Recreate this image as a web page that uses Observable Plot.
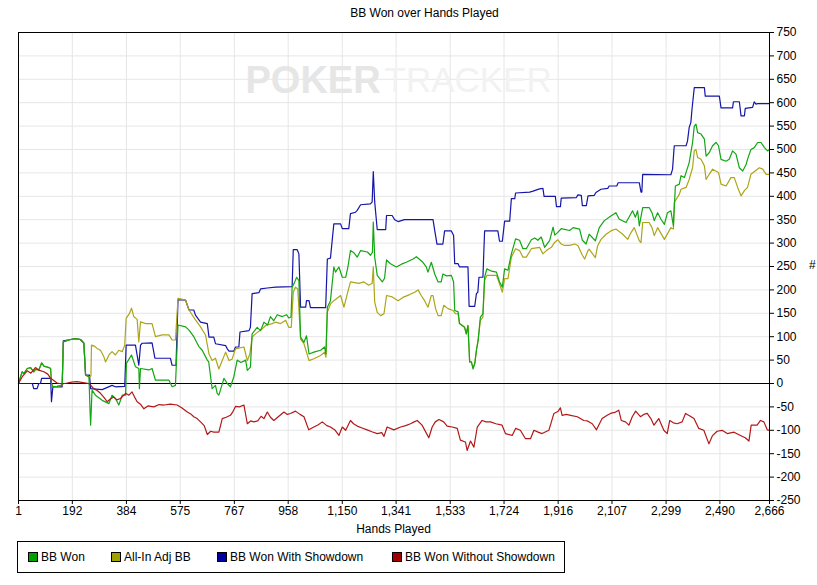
<!DOCTYPE html>
<html>
<head>
<meta charset="utf-8">
<script src="https://cdn.jsdelivr.net/npm/d3@7"></script>
<script src="https://cdn.jsdelivr.net/npm/@observablehq/plot@0.6"></script>
<style>
  body { margin: 0; background: #fff; font-family: "Liberation Sans", Arial, sans-serif; }
  #wrap { position: relative; width: 817px; height: 585px; overflow: hidden; background: #fff; }
  #chart { position: absolute; left: 0; top: 0; }
  .lbl { position: absolute; font-size: 12px; color: #000; white-space: nowrap; }
  #title { left: 0; width: 849px; text-align: center; top: 6px; }
  #xlabel { left: 18px; width: 751px; text-align: center; top: 522px; }
  #ylabel { left: 809px; top: 258px; }
  #legend { position: absolute; left: 17px; top: 541px; width: 546px; height: 30px; border: 1px solid #000; background: #fff; }
  .item { position: absolute; top: 0; height: 30px; font-size: 12px; line-height: 30px; white-space: nowrap; }
  .sw { position: absolute; left: 0; top: 10px; width: 8px; height: 8px; border: 1px solid #000; }
  .item span.t { position: absolute; left: 13px; top: 0; }
</style>
</head>
<body>
<div id="wrap">
  <div id="chart"></div>
  <div class="lbl" id="title">BB Won over Hands Played</div>
  <div class="lbl" id="xlabel">Hands Played</div>
  <div class="lbl" id="ylabel">#</div>
  <div id="legend"></div>
</div>
<script>
const xTicks = [1,192,384,575,767,958,1150,1341,1533,1724,1916,2107,2299,2490,2666];
const yTicks = d3.range(-250, 751, 50);

const seriesNames = ["BB Won", "All-In Adj BB", "BB Won With Showdown", "BB Won Without Showdown"];
const swatchColors = ["#00a000", "#a0a000", "#0000a0", "#a00000"];
const lineColors = ["#12a612", "#aca51a", "#1515aa", "#b21818"];

const bbWon = [[1,0],[8,14],[14,25],[20,21],[32,32],[44,34],[55,25],[61,30],[73,29],[83,44],[91,37],[109,34],[115,32],[118,0],[123,-7],[138,-6],[156,-4],[160,89],[186,94],[203,96],[221,94],[233,86],[239,18],[251,14],[255,-60],[257,-89],[262,-14],[274,-25],[298,-36],[322,-43],[333,-25],[345,-32],[357,-46],[369,-25],[381,-25],[384,43],[402,61],[416,36],[428,32],[430,-11],[434,32],[464,29],[475,32],[487,7],[535,7],[546,-7],[558,-4],[567,125],[594,121],[606,114],[623,100],[641,79],[653,71],[671,50],[676,46],[688,-11],[700,-4],[706,-21],[712,-25],[722,-5],[730,11],[742,0],[753,-7],[765,14],[777,50],[790,45],[807,50],[813,28],[824,35],[830,106],[848,120],[860,113],[872,131],[885,125],[895,143],[907,134],[919,147],[937,143],[952,147],[960,140],[968,142],[972,206],[980,215],[988,227],[996,220],[1002,99],[1014,88],[1023,102],[1032,63],[1049,67],[1073,71],[1087,78],[1092,63],[1097,163],[1108,177],[1120,249],[1126,238],[1138,249],[1150,227],[1162,227],[1170,249],[1179,284],[1190,280],[1203,270],[1215,284],[1239,281],[1250,274],[1257,280],[1260,345],[1265,270],[1274,231],[1292,217],[1300,225],[1307,264],[1321,256],[1342,249],[1360,255],[1377,259],[1401,266],[1413,271],[1436,259],[1448,249],[1454,238],[1466,259],[1478,234],[1490,217],[1501,217],[1507,234],[1520,230],[1537,231],[1545,217],[1549,156],[1561,153],[1566,128],[1584,120],[1590,106],[1596,124],[1602,46],[1608,46],[1614,31],[1620,42],[1626,71],[1632,92],[1640,142],[1649,149],[1655,227],[1663,245],[1680,240],[1697,238],[1708,217],[1718,206],[1726,245],[1738,242],[1750,277],[1765,309],[1779,306],[1791,288],[1803,288],[1821,307],[1833,311],[1844,306],[1856,313],[1868,291],[1886,306],[1898,334],[1904,317],[1915,323],[1927,331],[1957,327],[1969,333],[1992,330],[2002,306],[2015,298],[2026,319],[2048,305],[2062,333],[2080,348],[2103,358],[2121,365],[2133,351],[2157,344],[2180,369],[2190,355],[2198,369],[2204,337],[2216,376],[2239,376],[2249,365],[2257,348],[2269,365],[2281,351],[2293,340],[2304,365],[2316,369],[2325,337],[2332,422],[2346,426],[2352,444],[2364,440],[2370,451],[2381,472],[2393,515],[2399,550],[2405,554],[2411,536],[2423,533],[2435,522],[2441,486],[2452,493],[2464,508],[2476,515],[2485,508],[2494,479],[2512,475],[2523,479],[2535,497],[2547,490],[2559,461],[2571,454],[2583,468],[2588,479],[2600,500],[2612,504],[2624,515],[2636,515],[2648,504],[2659,497],[2666,500]];

const allInAdj = [[1,0],[8,14],[14,25],[20,21],[32,32],[44,34],[55,25],[61,30],[73,29],[83,44],[91,37],[109,34],[115,32],[118,0],[123,-7],[138,-6],[156,-4],[160,89],[186,94],[203,96],[221,94],[233,86],[239,18],[251,14],[258,16],[260,82],[270,80],[280,75],[292,71],[304,57],[310,46],[322,61],[333,68],[345,61],[357,71],[369,68],[378,82],[383,139],[395,150],[402,161],[410,143],[422,137],[428,89],[434,132],[452,128],[475,128],[487,100],[511,104],[535,104],[546,93],[558,93],[567,182],[594,178],[606,157],[629,136],[647,121],[665,103],[677,63],[688,49],[700,54],[712,31],[724,49],[736,67],[748,49],[759,52],[771,74],[801,78],[813,49],[822,63],[830,99],[842,106],[866,117],[878,124],[901,128],[913,131],[931,128],[949,135],[960,120],[969,120],[976,195],[984,206],[992,202],[1002,95],[1014,85],[1032,49],[1049,53],[1073,60],[1087,67],[1092,56],[1097,152],[1108,170],[1120,177],[1144,188],[1156,163],[1168,192],[1179,217],[1209,214],[1227,217],[1244,210],[1256,214],[1260,249],[1265,174],[1274,152],[1286,145],[1298,149],[1307,188],[1327,185],[1348,177],[1365,184],[1389,190],[1407,195],[1419,200],[1430,188],[1442,177],[1454,163],[1466,188],[1472,188],[1481,160],[1490,145],[1501,145],[1510,167],[1525,160],[1543,156],[1552,149],[1561,149],[1566,128],[1584,120],[1590,106],[1596,124],[1602,46],[1608,46],[1614,35],[1620,42],[1626,71],[1632,92],[1640,135],[1649,142],[1655,220],[1663,231],[1697,231],[1708,213],[1718,195],[1726,224],[1738,224],[1750,270],[1765,288],[1779,284],[1791,270],[1803,270],[1821,288],[1850,291],[1862,277],[1874,284],[1892,291],[1904,302],[1915,307],[1927,298],[1939,295],[1957,295],[1975,298],[1986,295],[2002,274],[2010,266],[2022,284],[2026,287],[2048,269],[2056,294],[2068,308],[2086,319],[2103,326],[2121,330],[2145,319],[2163,308],[2174,322],[2186,333],[2204,305],[2210,301],[2216,344],[2239,344],[2249,333],[2257,316],[2269,333],[2293,308],[2316,333],[2325,330],[2328,387],[2346,404],[2352,415],[2370,419],[2381,436],[2393,461],[2399,497],[2405,500],[2411,483],[2423,479],[2435,465],[2441,436],[2452,447],[2464,458],[2485,451],[2494,426],[2512,422],[2529,440],[2541,440],[2553,419],[2565,401],[2577,412],[2588,419],[2600,447],[2630,461],[2642,458],[2654,447],[2666,447]];

const withShowdown = [[1,0],[50,0],[55,-11],[67,-11],[73,0],[79,0],[83,11],[115,11],[118,-39],[123,-7],[156,-7],[160,91],[186,94],[203,96],[221,94],[233,86],[239,18],[253,18],[257,-11],[298,-13],[333,-4],[345,-7],[378,-6],[383,82],[416,82],[428,39],[434,82],[440,86],[475,87],[485,54],[540,54],[546,39],[560,39],[567,179],[594,178],[606,157],[623,157],[629,146],[647,131],[671,128],[677,99],[694,99],[700,85],[736,81],[742,74],[748,69],[765,69],[771,78],[783,78],[787,110],[819,113],[824,120],[830,192],[854,194],[860,202],[884,204],[913,206],[972,207],[976,286],[990,286],[996,277],[1002,163],[1020,163],[1023,177],[1032,177],[1037,162],[1091,162],[1097,266],[1108,268],[1120,341],[1144,341],[1150,331],[1173,331],[1179,363],[1197,366],[1203,370],[1215,382],[1250,384],[1256,388],[1260,453],[1265,388],[1274,329],[1304,329],[1307,359],[1327,359],[1336,350],[1348,346],[1371,350],[1472,350],[1478,327],[1486,298],[1507,298],[1513,326],[1537,326],[1545,316],[1549,256],[1561,256],[1566,249],[1596,249],[1600,165],[1620,165],[1626,192],[1631,195],[1635,227],[1649,227],[1655,326],[1702,326],[1708,304],[1718,304],[1726,347],[1744,347],[1750,395],[1762,395],[1765,407],[1815,409],[1827,411],[1850,416],[1862,417],[1866,400],[1906,400],[1910,378],[1924,378],[1927,396],[1980,397],[1986,403],[1998,402],[2002,380],[2016,380],[2022,401],[2044,402],[2050,408],[2068,415],[2092,417],[2097,422],[2124,422],[2129,429],[2204,429],[2210,409],[2213,409],[2216,447],[2316,446],[2322,458],[2328,508],[2370,508],[2375,518],[2381,547],[2387,558],[2391,586],[2399,632],[2435,632],[2438,614],[2488,614],[2494,589],[2535,589],[2538,602],[2559,602],[2565,572],[2577,572],[2580,588],[2606,590],[2612,602],[2618,597],[2624,598],[2666,598]];

const withoutShowdown = [[1,0],[15,15],[32,27],[45,22],[61,34],[75,28],[91,25],[105,20],[115,11],[138,1],[155,-1],[174,1],[190,3],[209,4],[230,2],[251,0],[268,-11],[280,-15],[292,-21],[305,-30],[316,-39],[327,-33],[339,-29],[350,-35],[363,-32],[381,-21],[393,-25],[404,-18],[412,-28],[422,-39],[435,-45],[446,-54],[460,-48],[481,-50],[500,-45],[517,-46],[540,-44],[564,-46],[580,-52],[600,-61],[612,-65],[623,-71],[635,-75],[647,-82],[660,-90],[671,-109],[683,-102],[694,-104],[712,-104],[718,-90],[724,-75],[738,-72],[753,-68],[762,-60],[771,-49],[785,-50],[801,-46],[813,-86],[825,-80],[836,-82],[850,-80],[862,-70],[872,-75],[884,-61],[895,-72],[907,-79],[925,-70],[943,-61],[955,-66],[966,-64],[984,-59],[1000,-66],[1014,-71],[1031,-99],[1049,-93],[1065,-88],[1079,-82],[1095,-90],[1108,-93],[1125,-100],[1138,-111],[1150,-93],[1162,-100],[1179,-79],[1190,-86],[1203,-91],[1220,-95],[1238,-99],[1255,-103],[1274,-107],[1290,-105],[1298,-113],[1309,-93],[1333,-99],[1357,-93],[1375,-90],[1392,-86],[1405,-82],[1416,-79],[1433,-89],[1457,-116],[1469,-93],[1480,-82],[1493,-77],[1510,-82],[1522,-91],[1540,-93],[1558,-96],[1569,-121],[1587,-125],[1593,-143],[1605,-123],[1617,-136],[1629,-93],[1646,-79],[1660,-82],[1676,-82],[1695,-86],[1717,-89],[1729,-107],[1753,-111],[1765,-96],[1782,-100],[1800,-118],[1818,-118],[1830,-100],[1845,-104],[1859,-107],[1883,-100],[1901,-64],[1915,-60],[1924,-52],[1930,-68],[1945,-66],[1960,-68],[1984,-71],[2007,-79],[2020,-80],[2037,-86],[2052,-99],[2072,-75],[2090,-68],[2102,-64],[2120,-61],[2131,-57],[2140,-79],[2155,-82],[2167,-89],[2179,-71],[2191,-59],[2208,-71],[2220,-66],[2232,-64],[2245,-75],[2256,-89],[2273,-75],[2291,-100],[2303,-107],[2312,-79],[2325,-84],[2338,-86],[2356,-82],[2368,-64],[2385,-70],[2398,-75],[2415,-96],[2433,-100],[2451,-129],[2463,-112],[2480,-102],[2498,-100],[2516,-107],[2540,-104],[2563,-111],[2580,-116],[2593,-123],[2601,-89],[2622,-89],[2634,-79],[2646,-82],[2658,-99],[2666,-100]];

const seriesData = [bbWon, allInAdj, withShowdown, withoutShowdown];
const drawOrder = [2, 1, 0, 3];

const fmtY = d => (d < 0 ? "-" + Math.abs(d) : String(d));

const lineMarks = drawOrder.map(i => Plot.line(
  seriesData[i].map(([hand, value]) => ({hand, value, series: seriesNames[i]})),
  {x: "hand", y: "value", stroke: lineColors[i], strokeWidth: 1.2, curve: "linear"}
));

const wmFont = "'Liberation Sans', Arial, sans-serif";

const chart = Plot.plot({
  width: 817,
  height: 585,
  marginLeft: 18,
  marginRight: 48,
  marginTop: 32,
  marginBottom: 85,
  style: {fontFamily: "'Liberation Sans', Arial, sans-serif", fontSize: "12px", background: "transparent", color: "#000"},
  x: {type: "linear", domain: [1, 2666]},
  y: {type: "linear", domain: [-250, 750]},
  marks: [
    Plot.gridX(xTicks, {stroke: "#e6e6e6", strokeOpacity: 1}),
    Plot.gridY(yTicks, {stroke: "#e6e6e6", strokeOpacity: 1}),
    Plot.text(["POKER"], {frameAnchor: "top-left", dx: 227, dy: 48, fontSize: 38, fontWeight: "bold", fill: "#e6e6e6", textAnchor: "start", lineAnchor: "middle", fontFamily: wmFont}),
    Plot.text(["TRACKER"], {frameAnchor: "top-left", dx: 366, dy: 48, fontSize: 35, fill: "#f2f2f2", textAnchor: "start", lineAnchor: "middle", fontFamily: wmFont}),
    Plot.ruleY([0], {stroke: "#000", strokeWidth: 1}),
    ...lineMarks,
    Plot.frame({stroke: "#000"}),
    Plot.axisX({ticks: xTicks, tickFormat: d3.format(","), tickSize: 4, tickPadding: 2, label: null, fontSize: 12}),
    Plot.axisY({anchor: "right", ticks: yTicks, tickFormat: fmtY, tickSize: 4, tickPadding: 3, label: null, fontSize: 12})
  ]
});

document.getElementById("chart").appendChild(chart);

// legend
const legendLefts = [10, 93, 199, 374];
const legend = d3.select("#legend");
seriesNames.forEach((name, i) => {
  const item = legend.append("div").attr("class", "item").style("left", legendLefts[i] + "px");
  item.append("div").attr("class", "sw").style("background", swatchColors[i]);
  item.append("span").attr("class", "t").text(name);
});
</script>
</body>
</html>
